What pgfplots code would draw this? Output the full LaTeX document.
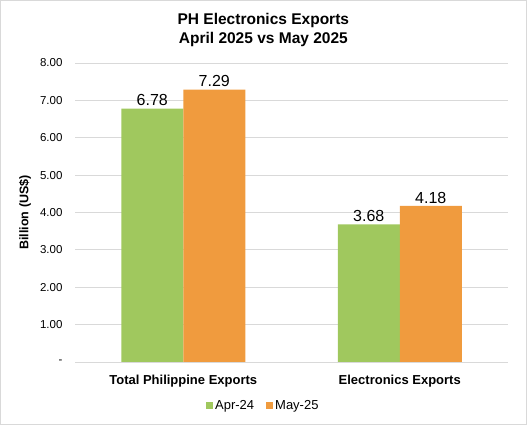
\documentclass[border=0pt]{standalone}
\usepackage{pgfplots}
\pgfplotsset{compat=1.18}
\usepackage{fontspec}
\setmainfont{Liberation Sans}
\definecolor{barg}{RGB}{160,200,94}
\definecolor{baro}{RGB}{240,155,62}
\definecolor{gridc}{RGB}{217,217,217}
\begin{document}
\begin{tikzpicture}[x=1pt,y=1pt]
\path[use as bounding box] (0,0) rectangle (527,425);
\draw[gridc,line width=1pt] (0.5,0.5) rectangle (526.5,424.5);
\begin{axis}[
  at={(75pt,63pt)}, anchor=south west,
  scale only axis, width=433pt, height=299pt,
  xmin=-0.5, xmax=1.5, ymin=0, ymax=8,
  ybar=0pt, bar width=62pt,
  xtick={0,1}, xticklabels={Total Philippine Exports, Electronics Exports},
  xticklabel style={font=\fontsize{13}{15}\selectfont\bfseries, yshift=-10pt},
  ytick={0,1,2,3,4,5,6,7,8},
  yticklabels={-,1.00,2.00,3.00,4.00,5.00,6.00,7.00,8.00},
  yticklabel style={font=\fontsize{11.5}{13}\selectfont, xshift=-9pt},
  ymajorgrids, grid style={gridc, line width=0.9pt},
  axis line style={draw=none},
  major tick length=0pt,
  ylabel={Billion (US\$)},
  every axis y label/.style={at={(axis description cs:-0.1155,0.5)}, rotate=90, anchor=center, font=\fontsize{12.5}{14}\selectfont\bfseries},
  nodes near coords,
  nodes near coords style={font=\fontsize{16}{18}\selectfont, color=black},
  every node near coord/.append style={/pgf/number format/fixed, /pgf/number format/precision=2, /pgf/number format/fixed zerofill, /pgf/number format/assume math mode=true, anchor=south, yshift=-1pt},
  title={PH Electronics Exports\\April 2025 vs May 2025},
  title style={font=\fontsize{15.5}{19}\selectfont\bfseries, align=center, at={(0.435,1)}, anchor=south, yshift=7pt},
  legend style={at={(0.435,-0.115)}, anchor=north, draw=none, legend columns=2, font=\fontsize{13}{15}\selectfont, /tikz/every even column/.append style={column sep=10pt}},
  legend image code/.code={\fill[#1] (1pt,-3.5pt) rectangle (8pt,3.5pt);},
]
\addplot[fill=barg, draw=none] coordinates {(0,6.78) (1,3.68)};
\addplot[fill=baro, draw=none] coordinates {(0,7.29) (1,4.18)};
\legend{Apr-24, May-25}
\end{axis}
\end{tikzpicture}
\end{document}
